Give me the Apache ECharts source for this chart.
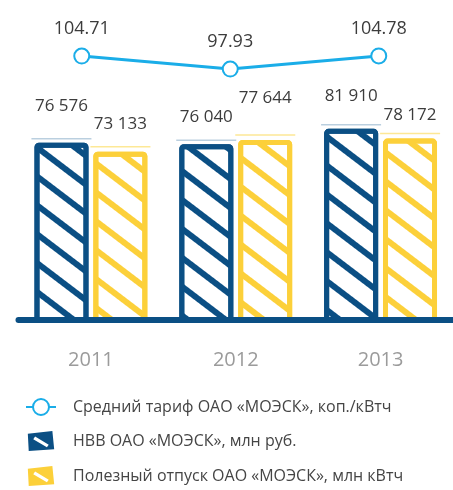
<!DOCTYPE html>
<html>
<head>
<meta charset="utf-8">
<script src="https://cdn.jsdelivr.net/npm/echarts@6/dist/echarts.min.js"></script>
<style>
  html, body { margin: 0; padding: 0; background: #fff; }
  #chart { width: 453px; height: 490px; }
</style>
</head>
<body>
<div id="chart"></div>
<script>
// Годы
const years = ['2011', '2012', '2013'];
// Средний тариф, коп./кВтч
const tariff = [104.71, 97.93, 104.78];
// НВВ, млн руб.
const revenue = [76576, 76040, 81910];
// Полезный отпуск, млн кВтч
const supply = [73133, 77644, 78172];
// Подписи легенды
const seriesNames = [
  'Средний тариф ОАО «МОЭСК», коп./кВтч',
  'НВВ ОАО «МОЭСК», млн руб.',
  'Полезный отпуск ОАО «МОЭСК», млн кВтч'
];

// Оформление
const NAVY = '#0b4f84';
const GOLD = '#fcd03a';
const SKY = '#1aade8';
const FONT = '"Open Sans", "Noto Sans", sans-serif';
// подъём подписей над столбцами, px
const revenueLabelLift = [24, 14, 20];
const supplyLabelLift = [15, 29, 11];

const fmt = v => String(v).replace(/\B(?=(\d{3})+(?!\d))/g, ' ');

const stripes = color => ({
  symbol: 'rect',
  symbolSize: 1,
  color: color,
  dashArrayX: [1, 0],
  dashArrayY: [5.5, 16.5],
  rotation: 0.65
});

const barIcon = 'path://M1,3 L28,0 L30,20 L2,22 Z M9,6 L7,9 L22,18 L24,15 Z';

const barLabel = {
  show: true,
  position: 'top',
  distance: 4,
  formatter: p => fmt(p.value),
  fontFamily: FONT,
  fontSize: 17,
  color: '#3c3c3c'
};

const chart = echarts.init(document.getElementById('chart'), null, { renderer: 'canvas' });

chart.setOption({
  animation: false,
  grid: [
    { left: 18.5, top: 112, width: 441, height: 208 },
    { left: 7.5, top: 7.4, width: 453, height: 250 }
  ],
  xAxis: [
    {
      type: 'category', gridIndex: 0, data: years, z: 5,
      axisLine: { lineStyle: { color: NAVY, width: 6, cap: 'round' } },
      axisTick: { show: false },
      axisLabel: { fontFamily: FONT, fontSize: 20, color: '#9b9b9b', margin: 30 }
    },
    { type: 'category', gridIndex: 1, data: years, show: false }
  ],
  yAxis: [
    { type: 'value', gridIndex: 0, min: 8400, max: 88400, show: false, splitLine: { show: false } },
    { type: 'value', gridIndex: 1, min: 0, max: 130, show: false, splitLine: { show: false } }
  ],
  legend: {
    orient: 'vertical',
    left: 25,
    top: 398,
    padding: 0,
    itemWidth: 30,
    itemHeight: 20,
    itemGap: 15,
    selectedMode: false,
    textStyle: { fontFamily: FONT, fontSize: 16, color: '#454545', padding: [0, 0, 0, 12] },
    data: [
      { name: seriesNames[0] },
      { name: seriesNames[1], icon: barIcon,
        itemStyle: { color: NAVY, borderWidth: 0, decal: { color: 'rgba(0,0,0,0)' } } },
      { name: seriesNames[2], icon: barIcon,
        itemStyle: { color: GOLD, borderWidth: 0, decal: { color: 'rgba(0,0,0,0)' } } }
    ]
  },
  series: [
    {
      name: seriesNames[1],
      type: 'bar',
      xAxisIndex: 0, yAxisIndex: 0,
      barWidth: 54,
      barGap: '9%',
      data: revenue.map((v, i) => ({ value: v, label: { offset: [0, -revenueLabelLift[i]] } })),
      itemStyle: { color: '#fff', borderColor: NAVY, borderWidth: 5, borderJoin: 'round', borderRadius: 2, decal: stripes(NAVY) },
      label: barLabel,
      emphasis: { disabled: true }
    },
    {
      name: seriesNames[2],
      type: 'bar',
      xAxisIndex: 0, yAxisIndex: 0,
      barWidth: 54,
      barGap: '9%',
      data: supply.map((v, i) => ({ value: v, label: { offset: [0, -supplyLabelLift[i]] } })),
      itemStyle: { color: '#fff', borderColor: GOLD, borderWidth: 5, borderJoin: 'round', borderRadius: 2, decal: stripes(GOLD) },
      label: barLabel,
      emphasis: { disabled: true }
    },
    // тонкие линии над столбцами
    {
      type: 'scatter', xAxisIndex: 0, yAxisIndex: 0, silent: true,
      data: revenue,
      symbol: 'rect', symbolSize: [60, 1.5], symbolOffset: [-29.5, -4],
      itemStyle: { color: '#a9c3d7' }
    },
    {
      type: 'scatter', xAxisIndex: 0, yAxisIndex: 0, silent: true,
      data: supply,
      symbol: 'rect', symbolSize: [60, 1.5], symbolOffset: [29.5, -5],
      itemStyle: { color: '#fde27c' }
    },
    {
      name: seriesNames[0],
      type: 'line',
      xAxisIndex: 1, yAxisIndex: 1,
      data: tariff,
      symbol: 'emptyCircle',
      symbolSize: 15,
      lineStyle: { color: SKY, width: 3 },
      itemStyle: { color: SKY, borderWidth: 3 },
      label: {
        show: true, position: 'top', distance: 10,
        fontFamily: FONT, fontSize: 18, color: '#3c3c3c',
        formatter: p => p.value.toFixed(2)
      },
      emphasis: { disabled: true },
      z: 4
    }
  ]
});
</script>
</body>
</html>
